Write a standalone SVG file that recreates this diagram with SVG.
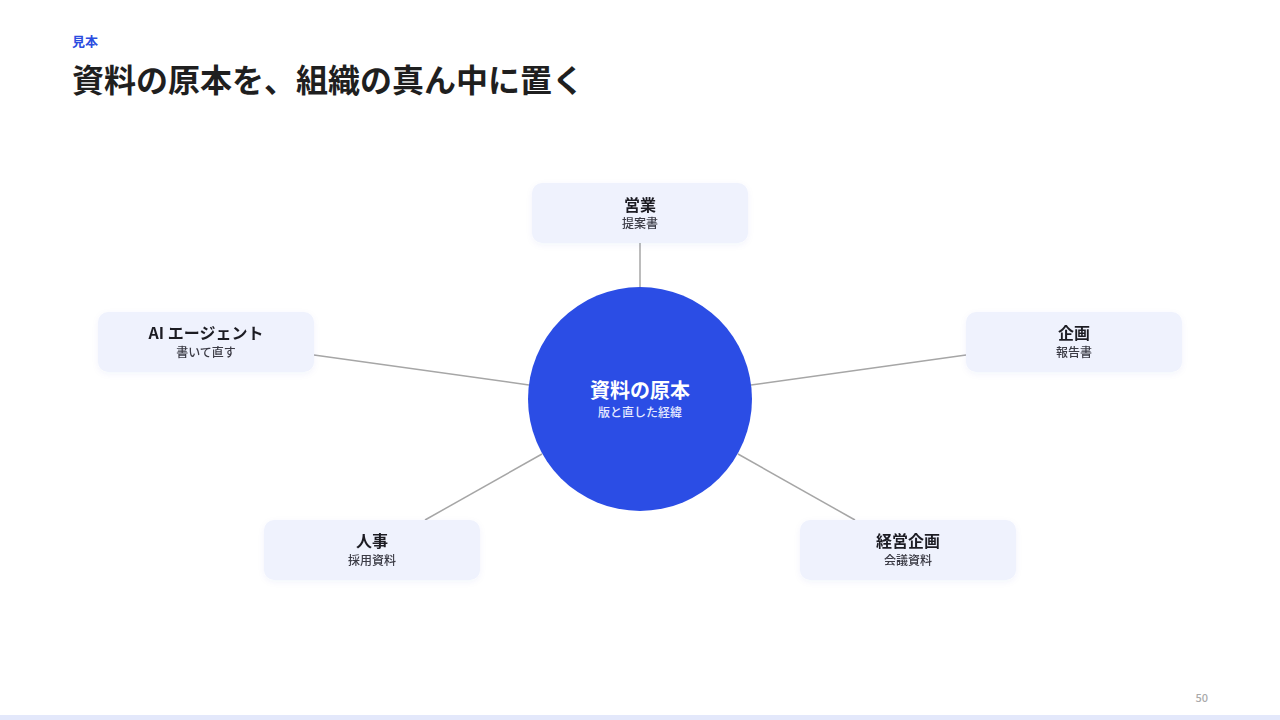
<svg xmlns="http://www.w3.org/2000/svg" width="1280" height="720" viewBox="0 0 1280 720">
<defs>
<style>
text{font-family:"Noto Sans CJK JP","Noto Sans",sans-serif;}
.node rect{fill:#eff2fd;}
.nt{font-size:16px;font-weight:700;fill:#1c1c24;text-anchor:middle;}
.ns{font-size:12px;font-weight:500;fill:#3a3a44;text-anchor:middle;}
.conn line{stroke:#a6a6a6;stroke-width:1.5;}
</style>
<filter id="sh" x="-10%" y="-20%" width="120%" height="150%">
<feDropShadow dx="0" dy="2" stdDeviation="3" flood-color="#3050c0" flood-opacity="0.05"/>
</filter>
</defs>
<rect width="1280" height="720" fill="#ffffff"/>
<text x="72" y="46" font-size="13" font-weight="700" fill="#2b4de0">見本</text>
<text x="72" y="92" font-size="32" font-weight="700" fill="#1f1f1f">資料の原本を、組織の真ん中に置く</text>
<g class="conn">
<line x1="640" y1="243" x2="640" y2="288"/>
<line x1="314" y1="355" x2="529" y2="385"/>
<line x1="966" y1="355" x2="751" y2="385"/>
<line x1="425" y1="520" x2="542" y2="454"/>
<line x1="855" y1="520" x2="738" y2="454"/>
</g>
<g id="center">
<circle cx="640" cy="399" r="112" fill="#2b4de5"/>
<text x="640" y="398" font-size="20" font-weight="700" fill="#ffffff" text-anchor="middle">資料の原本</text>
<text x="640" y="417" font-size="12" font-weight="500" fill="#e6eaff" text-anchor="middle">版と直した経緯</text>
</g>
<g id="node-sales" class="node" filter="url(#sh)">
<rect x="532" y="183" width="216" height="60" rx="10"/>
<text class="nt" x="640" y="211">営業</text>
<text class="ns" x="640" y="228">提案書</text>
</g>
<g id="node-ai" class="node" filter="url(#sh)">
<rect x="98" y="312" width="216" height="60" rx="10"/>
<text class="nt" x="206" y="339">AI エージェント</text>
<text class="ns" x="206" y="357">書いて直す</text>
</g>
<g id="node-plan" class="node" filter="url(#sh)">
<rect x="966" y="312" width="216" height="60" rx="10"/>
<text class="nt" x="1074" y="339">企画</text>
<text class="ns" x="1074" y="357">報告書</text>
</g>
<g id="node-hr" class="node" filter="url(#sh)">
<rect x="264" y="520" width="216" height="60" rx="10"/>
<text class="nt" x="372" y="547">人事</text>
<text class="ns" x="372" y="565">採用資料</text>
</g>
<g id="node-mgmt" class="node" filter="url(#sh)">
<rect x="800" y="520" width="216" height="60" rx="10"/>
<text class="nt" x="908" y="547">経営企画</text>
<text class="ns" x="908" y="565">会議資料</text>
</g>
<text x="1208" y="702" font-size="11" font-weight="500" fill="#aaaaaa" text-anchor="end">50</text>
<rect x="0" y="715" width="1280" height="5" fill="#e3e8fb"/>
</svg>
